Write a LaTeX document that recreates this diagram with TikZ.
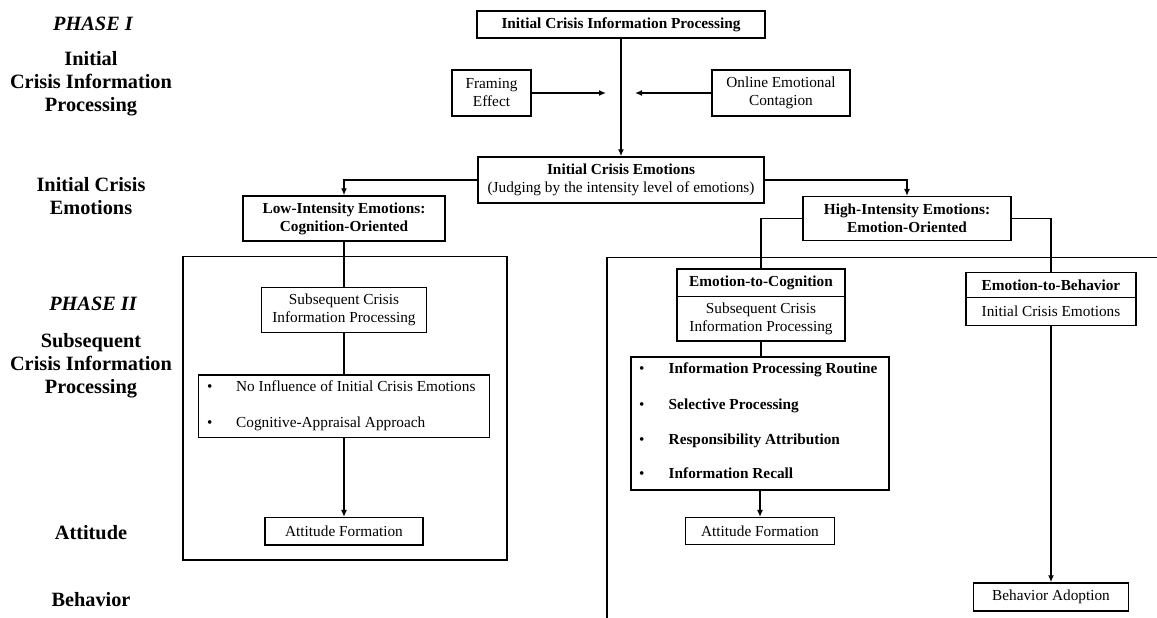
\documentclass[tikz,border=0pt]{standalone}
\usepackage{fontspec}
\setmainfont{Liberation Serif}
\usetikzlibrary{arrows.meta}
\newcommand{\bx}{\fontsize{15.3}{18}\selectfont}
\newcommand{\sd}{\fontsize{20.3}{23}\selectfont\bfseries}
\tikzset{
  box/.style={draw, line width=1.5pt, inner sep=0pt, align=center, font=\bx},
  conn/.style={line width=1.5pt},
  arr/.style={line width=1.5pt, -{Latex[length=7pt,width=6pt]}},
  side/.style={align=center, inner sep=0pt, font=\sd},
  txt/.style={inner sep=0pt, anchor=west, font=\bx, text height=10.5pt, text depth=3.5pt},
}
\begin{document}
\begin{tikzpicture}[x=1pt,y=-1pt]
\useasboundingbox (0,0) rectangle (1157,618);
% side labels
\node[side] (p1) at (93,24) {\itshape PHASE I};
\node[side] (l1) at (91,84) {Initial\\Crisis Information\\Processing};
\node[side] (l2) at (91,196) {Initial Crisis\\Emotions};
\node[side] (p2) at (93,303.5) {\itshape PHASE II};
\node[side] (l3) at (91,366) {Subsequent\\Crisis Information\\Processing};
\node[side] (l4) at (91,533) {Attitude};
\node[side] (l5) at (91,600) {Behavior};
% frames
\draw[conn] (183,256.7) rectangle (507,560);
\draw[conn] (607,618) -- (607,257.3) -- (1160,257.3);
% phase I
\node[box, minimum width=288pt, minimum height=27pt] (top) at (621,24.5) {\bfseries Initial Crisis Information Processing};
\node[box, minimum width=79pt, minimum height=46pt] (frame) at (491.5,93) {Framing\\Effect};
\node[box, minimum width=138pt, minimum height=46pt] (online) at (781,93) {Online Emotional\\Contagion};
\coordinate (fa) at (606,93);
\coordinate (oa) at (635,93);
\node[box, minimum width=286pt, minimum height=46pt] (emo) at (621,180) {\textbf{Initial Crisis Emotions}\\(Judging by the intensity level of emotions)};
\node[box, minimum width=202pt, minimum height=45pt] (low) at (344,218.5) {\bfseries Low-Intensity Emotions:\\\bfseries Cognition-Oriented};
\node[box, minimum width=208pt, minimum height=44pt] (high) at (907,218.7) {\bfseries High-Intensity Emotions:\\\bfseries Emotion-Oriented};
% left branch
\node[box, minimum width=165pt, minimum height=44.6pt] (scipL) at (344,310) {Subsequent Crisis\\Information Processing};
\node[box, minimum width=291pt, minimum height=62.7pt] (bulL) at (344,406.3) {};
\node[txt] (bl1) at (207,388.3) {•};
\node[txt] (tl1) at (236,388.3) {No Influence of Initial Crisis Emotions};
\node[txt] (bl2) at (207,424) {•};
\node[txt] (tl2) at (236,424) {Cognitive-Appraisal Approach};
\node[box, minimum width=158pt, minimum height=27.3pt] (attL) at (344,531.3) {Attitude Formation};
% right branch: emotion to cognition
\node[box, minimum width=168pt, minimum height=27.3pt] (e2c) at (761,282.7) {\bfseries Emotion-to-Cognition};
\node[box, minimum width=168pt, minimum height=44.7pt] (e2cb) at (761,318.7) {Subsequent Crisis\\Information Processing};
\node[box, minimum width=258pt, minimum height=133pt] (bulR) at (760,423.5) {};
\node[txt] (br1) at (639,370) {•};
\node[txt] (tr1) at (668.5,370) {\bfseries Information Processing Routine};
\node[txt] (br2) at (639,405.7) {•};
\node[txt] (tr2) at (668.5,405.7) {\bfseries Selective Processing};
\node[txt] (br3) at (639,441) {•};
\node[txt] (tr3) at (668.5,441) {\bfseries Responsibility Attribution};
\node[txt] (br4) at (639,475.3) {•};
\node[txt] (tr4) at (668.5,475.3) {\bfseries Information Recall};
\node[box, minimum width=149pt, minimum height=26.6pt] (attR) at (760,531) {Attitude Formation};
% right branch: emotion to behavior
\node[box, minimum width=170pt, minimum height=25pt] (e2b) at (1051,285.2) {\bfseries Emotion-to-Behavior};
\node[box, minimum width=170pt, minimum height=28pt] (e2bb) at (1051,311.7) {Initial Crisis Emotions};
\node[box, minimum width=155pt, minimum height=28pt] (behav) at (1051,597) {Behavior Adoption};
% connectors
\draw[arr] (top.south) -- (emo.north);
\draw[arr] (frame.east) -- (fa);
\draw[arr] (online.west) -- (oa);
\draw[arr] (emo.west) -| (low.north);
\draw[arr] (emo.east) -| (high.north);
\draw[conn] (low.south) -- (scipL.north);
\draw[conn] (scipL.south) -- (bulL.north);
\draw[arr] (bulL.south) -- (attL.north);
\draw[conn] (high.west) -| (e2c.north);
\draw[conn] (high.east) -| (e2b.north);
\draw[conn] (e2cb.south) -- (e2cb.south |- bulR.north);
\draw[arr] (bulR.south) -- (bulR.south |- attR.north);
\draw[arr] (e2bb.south) -- (behav.north);
\end{tikzpicture}
\end{document}
